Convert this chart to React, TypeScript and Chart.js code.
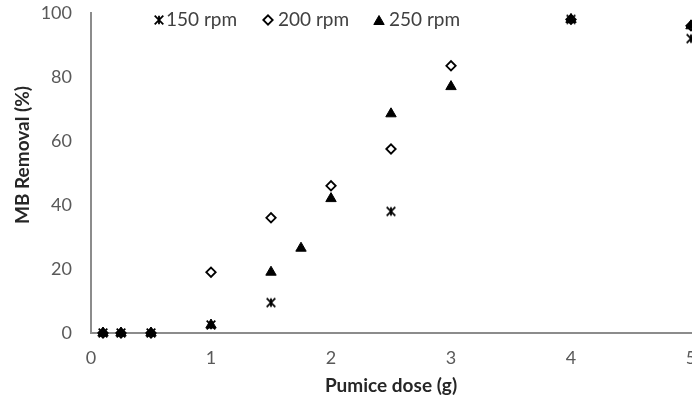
import React, { useEffect, useRef } from 'react';
import { Chart, registerables } from 'chart.js';
Chart.register(...registerables);

const seriesNames = ['150 rpm', '200 rpm', '250 rpm'];
const dose150 = [0.1, 0.25, 0.5, 1, 1.5, 2.5, 4, 5];
const removal150 = [0, 0, 0, 2.5, 9.5, 38, 98, 92];
const dose200 = [0.1, 0.25, 0.5, 1, 1.5, 2, 2.5, 3, 4, 5];
const removal200 = [0, 0, 0, 19, 36, 46, 57.5, 83.5, 98, 96];
const dose250 = [0.1, 0.25, 0.5, 1, 1.5, 1.75, 2, 2.5, 3, 4, 5];
const removal250 = [0, 0, 0, 2.5, 19, 26.5, 42, 68.5, 77, 98, 96];
const xTicks = [0, 1, 2, 3, 4, 5];
const yTicks = [0, 20, 40, 60, 80, 100];
const xTitle = 'Pumice dose (g)';
const yTitle = 'MB Removal (%)';

const FONT = 'Lato';

function makeStar(): HTMLCanvasElement {
  const size = 12;
  const c = document.createElement('canvas');
  c.width = size;
  c.height = size;
  const g = c.getContext('2d')!;
  g.strokeStyle = '#000';
  g.lineWidth = 1.8;
  const h = size / 2;
  const a = 4.3;
  g.beginPath();
  g.moveTo(h - a, h - a);
  g.lineTo(h + a, h + a);
  g.moveTo(h + a, h - a);
  g.lineTo(h - a, h + a);
  g.moveTo(h, h - a);
  g.lineTo(h, h + a);
  g.stroke();
  return c;
}

function drawDiamond(ctx: CanvasRenderingContext2D, x: number, y: number, r: number) {
  ctx.beginPath();
  ctx.moveTo(x - r, y);
  ctx.lineTo(x, y - r);
  ctx.lineTo(x + r, y);
  ctx.lineTo(x, y + r);
  ctx.closePath();
  ctx.fillStyle = '#fff';
  ctx.fill();
  ctx.strokeStyle = '#000';
  ctx.lineWidth = 1.8;
  ctx.stroke();
}

function drawTriangle(ctx: CanvasRenderingContext2D, x: number, y: number, r: number) {
  ctx.beginPath();
  for (let i = 0; i < 3; i++) {
    const a = (i * 2 * Math.PI) / 3;
    const px = x + Math.sin(a) * r;
    const py = y - Math.cos(a) * r;
    if (i === 0) ctx.moveTo(px, py);
    else ctx.lineTo(px, py);
  }
  ctx.closePath();
  ctx.fillStyle = '#000';
  ctx.fill();
  ctx.strokeStyle = '#000';
  ctx.lineWidth = 1;
  ctx.stroke();
}

export default function App() {
  const ref = useRef<HTMLCanvasElement>(null);
  useEffect(() => {
    const star = makeStar();
    const overlay = {
      id: 'overlay',
      afterDraw(chart: any) {
        const ctx: CanvasRenderingContext2D = chart.ctx;
        ctx.save();
        // legend
        const ly = 20;
        ctx.drawImage(star, 159 - star.width / 2, ly - star.height / 2);
        drawDiamond(ctx, 268, ly, 4.7);
        drawTriangle(ctx, 379, ly + 1.5, 6);
        ctx.fillStyle = '#404040';
        ctx.font = `19px ${FONT}`;
        ctx.textBaseline = 'middle';
        ctx.textAlign = 'left';
        ctx.fillText(seriesNames[0], 166, ly);
        ctx.fillText(seriesNames[1], 278, ly);
        ctx.fillText(seriesNames[2], 389, ly);
        // axis titles
        ctx.fillStyle = '#262626';
        ctx.font = `bold 19px ${FONT}`;
        ctx.textAlign = 'center';
        const ca = chart.chartArea;
        ctx.fillText(xTitle, (ca.left + ca.right) / 2, 386);
        ctx.translate(23, 155);
        ctx.rotate(-Math.PI / 2);
        ctx.fillText(yTitle, 0, 0);
        ctx.restore();
      },
    };
    const tickFont = { family: FONT, size: 18 };
    const chart = new Chart(ref.current!, {
      type: 'scatter',
      data: {
        datasets: [
          {
            label: seriesNames[0],
            data: dose150.map((x, i) => ({ x, y: removal150[i] })),
            pointStyle: star as any,
            pointRadius: 6,
            order: 2,
            clip: false as any,
          },
          {
            label: seriesNames[1],
            data: dose200.map((x, i) => ({ x, y: removal200[i] })),
            pointStyle: 'rectRot',
            pointRadius: 4.7,
            pointBackgroundColor: '#fff',
            pointBorderColor: '#000',
            pointBorderWidth: 1.8,
            order: 1,
            clip: false as any,
          },
          {
            label: seriesNames[2],
            data: dose250.map((x, i) => ({ x, y: removal250[i] })),
            pointStyle: 'triangle',
            pointRadius: 6,
            pointBackgroundColor: '#000',
            pointBorderColor: '#000',
            pointBorderWidth: 1,
            order: 0,
            clip: false as any,
          },
        ],
      },
      options: {
        animation: false,
        responsive: false,
        events: [],
        layout: { autoPadding: false, padding: { top: 13, right: 1, left: 0, bottom: 0 } },
        plugins: { legend: { display: false }, tooltip: { enabled: false } },
        scales: {
          x: {
            type: 'linear',
            min: 0,
            max: 5,
            afterBuildTicks: (s: any) => {
              s.ticks = xTicks.map((v) => ({ value: v }));
            },
            afterFit: (s: any) => {
              s.height = 70;
              s.paddingLeft = 0;
              s.paddingRight = 0;
            },
            grid: { display: false, drawTicks: false },
            border: { color: '#8c8c8c', width: 2 },
            ticks: { padding: 14, color: '#595959', font: tickFont, maxRotation: 0 },
          },
          y: {
            type: 'linear',
            min: 0,
            max: 100,
            afterBuildTicks: (s: any) => {
              s.ticks = yTicks.map((v) => ({ value: v }));
            },
            afterFit: (s: any) => {
              s.width = 91;
              s.paddingTop = 0;
              s.paddingBottom = 0;
            },
            grid: { display: false, drawTicks: false },
            border: { color: '#8c8c8c', width: 2 },
            ticks: { padding: 19, color: '#595959', font: tickFont },
          },
        },
      },
      plugins: [overlay],
    });
    return () => chart.destroy();
  }, []);
  return (
    <div style={{ position: 'fixed', left: 0, top: 0, width: 692, height: 403, background: '#fff' }}>
      <canvas ref={ref} width={692} height={403} style={{ display: 'block' }} />
    </div>
  );
}
